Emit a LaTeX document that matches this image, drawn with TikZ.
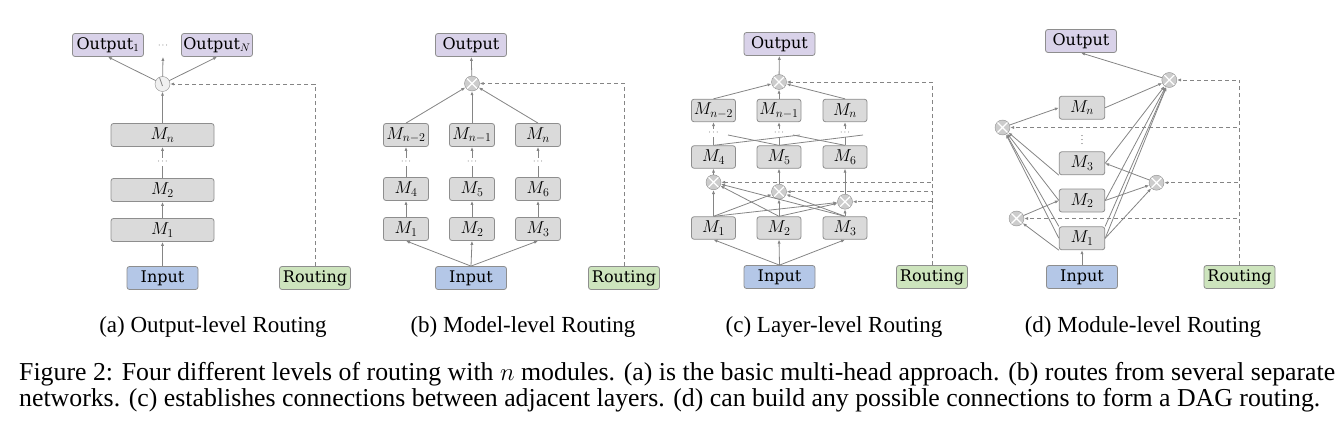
\documentclass[tikz,border=0pt]{standalone}
\usepackage{fontspec}
\setmainfont{Liberation Serif}
\newfontfamily\boxfont{DejaVu Serif}
\usetikzlibrary{arrows.meta}

\definecolor{inblue}{HTML}{B4C7E7}
\definecolor{outlilac}{HTML}{D9D2E9}
\definecolor{rtgreen}{HTML}{CDE4BD}
\definecolor{modgray}{HTML}{DADADA}
\definecolor{edgegray}{HTML}{8E8E8E}
\definecolor{linegray}{HTML}{858585}

\tikzset{
  basebox/.style={draw=edgegray, rounded corners=2.5pt, line width=0.8pt,
    minimum height=23pt, inner sep=0pt, font=\boxfont\fontsize{16}{18}\selectfont},
  modbox/.style={basebox, fill=modgray, minimum width=45pt, font=\fontsize{18}{20}\selectfont},
  inbox/.style={basebox, fill=inblue, minimum width=71pt},
  outbox/.style={basebox, fill=outlilac, minimum width=71pt},
  rtbox/.style={basebox, fill=rtgreen, minimum width=71pt},
  mixer/.style={circle, draw=edgegray, fill=black!20, minimum size=15pt, inner sep=0pt,
    path picture={\draw[white, line width=1.3pt]
      (path picture bounding box.north west) -- (path picture bounding box.south east)
      (path picture bounding box.north east) -- (path picture bounding box.south west);}},
  switchnode/.style={circle, draw=edgegray, fill=black!6, minimum size=15pt, inner sep=0pt,
    path picture={\draw[linegray, line width=0.8pt]
      ([shift={(-3pt,6.5pt)}]path picture bounding box.center) --
      ([shift={(0pt,-2pt)}]path picture bounding box.center);}},
  dotsnode/.style={inner sep=0pt, minimum height=8pt, font=\fontsize{8}{8}\selectfont},
  link/.style={draw=linegray, line width=0.8pt},
  conn/.style={link, -{Latex[length=4pt,width=3.2pt]}},
  route/.style={conn, dash pattern=on 4pt off 3pt},
  subcap/.style={anchor=base, inner sep=0pt, font=\fontsize{23}{26}\selectfont},
  capline/.style={anchor=base west, inner sep=0pt, font=\fontsize{25.8}{27}\selectfont}
}

\begin{document}
\begin{tikzpicture}[x=1pt, y=-1pt]
  \useasboundingbox (0,0) rectangle (1341,441);

  % (a) output-level
  \node[outbox] (oa1) at (108,45) {Output$_1$};
  \node[outbox] (oaN) at (217,45) {Output$_N$};
  \node[dotsnode] (oadots) at (163,46) {$\cdots$};
  \node[switchnode] (swa) at (162.5,84) {};
  \node[modbox, minimum width=103pt] (man) at (162.5,135) {$M_n$};
  \node[dotsnode] (madots) at (162.5,162) {$\cdots$};
  \node[modbox, minimum width=103pt] (ma2) at (162.5,190) {$M_2$};
  \node[modbox, minimum width=103pt] (ma1) at (162.5,230) {$M_1$};
  \node[inbox] (ina) at (162.5,278) {Input};
  \node[rtbox] (rta) at (315,278) {Routing};

  \draw[conn] (ina) -- (ma1);
  \draw[conn] (ma1) -- (ma2);
  \draw[link] (ma2) -- (madots);
  \draw[conn] (madots) -- (man);
  \draw[conn] (man) -- (swa);
  \draw[conn] (swa) -- (oa1.south);
  \draw[conn] (swa) -- (oadots |- oa1.south);
  \draw[conn] (swa) -- (oaN.south);
  \draw[route] (rta) |- (swa);

  % (b) model-level
  \node[outbox] (outb) at (471,45) {Output};
  \node[mixer] (mixb) at (472,83.5) {};
  \node[modbox] (mb7) at (406,135) {$M_{n-2}$};
  \node[modbox] (mb8) at (472,135) {$M_{n-1}$};
  \node[modbox] (mb9) at (538,135) {$M_n$};
  \node[dotsnode] (bdots1) at (406,162) {$\cdots$};
  \node[dotsnode] (bdots2) at (472,162) {$\cdots$};
  \node[dotsnode] (bdots3) at (538,162) {$\cdots$};
  \node[modbox] (mb4) at (406,189) {$M_4$};
  \node[modbox] (mb5) at (472,189) {$M_5$};
  \node[modbox] (mb6) at (538,189) {$M_6$};
  \node[modbox] (mb1) at (406,229) {$M_1$};
  \node[modbox] (mb2) at (472,229) {$M_2$};
  \node[modbox] (mb3) at (538,229) {$M_3$};
  \node[inbox] (inb) at (471,278) {Input};
  \node[rtbox] (rtb) at (624,278) {Routing};

  \draw[conn] (inb.north) -- (mb1.south);
  \draw[conn] (inb.north) -- (mb2.south);
  \draw[conn] (inb.north) -- (mb3.south);
  \draw[conn] (mb1) -- (mb4);
  \draw[conn] (mb2) -- (mb5);
  \draw[conn] (mb3) -- (mb6);
  \draw[link] (mb4) -- (bdots1);
  \draw[link] (mb5) -- (bdots2);
  \draw[link] (mb6) -- (bdots3);
  \draw[conn] (bdots1) -- (mb7);
  \draw[conn] (bdots2) -- (mb8);
  \draw[conn] (bdots3) -- (mb9);
  \draw[conn] (mb7.north) -- (mixb);
  \draw[conn] (mb8.north) -- (mixb);
  \draw[conn] (mb9.north) -- (mixb);
  \draw[conn] (mixb) -- (outb);
  \draw[route] (rtb) |- (mixb);

  % (c) layer-level
  \node[outbox] (outc) at (779.5,44) {Output};
  \node[mixer] (mixc) at (779,82) {};
  \node[modbox, minimum width=44pt, minimum height=22.5pt] (mc7) at (713.5,110.5) {$M_{n-2}$};
  \node[modbox, minimum width=44pt, minimum height=22.5pt] (mc8) at (779,110.5) {$M_{n-1}$};
  \node[modbox, minimum width=44pt, minimum height=22.5pt] (mc9) at (845,110.5) {$M_n$};
  \node[dotsnode] (cdots1) at (713.5,133) {$\cdots$};
  \node[dotsnode] (cdots2) at (779,133) {$\cdots$};
  \node[dotsnode] (cdots3) at (845,133) {$\cdots$};
  \node[modbox, minimum width=44pt, minimum height=22.5pt] (mc4) at (713.5,157) {$M_4$};
  \node[modbox, minimum width=44pt, minimum height=22.5pt] (mc5) at (779,157) {$M_5$};
  \node[modbox, minimum width=44pt, minimum height=22.5pt] (mc6) at (845,157) {$M_6$};
  \node[mixer] (cm1) at (713.5,182.3) {};
  \node[mixer] (cm2) at (779,191.7) {};
  \node[mixer] (cm3) at (845,201.7) {};
  \node[modbox, minimum width=44pt, minimum height=22.5pt] (mc1) at (713.5,228) {$M_1$};
  \node[modbox, minimum width=44pt, minimum height=22.5pt] (mc2) at (779,228) {$M_2$};
  \node[modbox, minimum width=44pt, minimum height=22.5pt] (mc3) at (845,228) {$M_3$};
  \node[inbox] (inc) at (779.5,277) {Input};
  \node[rtbox] (rtc) at (932,277) {Routing};
  \coordinate (xa) at (728,135);
  \coordinate (xb) at (800,135);
  \coordinate (xc) at (793,135);
  \coordinate (xd) at (863,135);

  \draw[conn] (inc.north) -- (mc1.south);
  \draw[conn] (inc.north) -- (mc2.south);
  \draw[conn] (inc.north) -- (mc3.south);
  \draw[conn] (mc1.north) -- (cm1);
  \draw[conn] (mc1.north) -- (cm2);
  \draw[conn] (mc1.north) -- (cm3);
  \draw[conn] (mc2.north) -- (cm1);
  \draw[conn] (mc2.north) -- (cm2);
  \draw[conn] (mc2.north) -- (cm3);
  \draw[conn] (mc3.north) -- (cm1);
  \draw[conn] (mc3.north) -- (cm2);
  \draw[conn] (mc3.north) -- (cm3);
  \draw[conn] (cm1) -- (mc4);
  \draw[conn] (cm2) -- (mc5);
  \draw[conn] (cm3) -- (mc6);
  \draw[link] (mc4) -- (cdots1);
  \draw[link] (mc5) -- (cdots2);
  \draw[link] (mc6) -- (cdots3);
  \draw[link] (mc4.north) -- (xb);
  \draw[link] (mc5.north) -- (xa);
  \draw[link] (mc5.north) -- (xd);
  \draw[link] (mc6.north) -- (xc);
  \draw[conn] (cdots1) -- (mc7);
  \draw[conn] (cdots2) -- (mc8);
  \draw[conn] (cdots3) -- (mc9);
  \draw[conn] (mc7.north) -- (mixc);
  \draw[conn] (mc8.north) -- (mixc);
  \draw[conn] (mc9.north) -- (mixc);
  \draw[conn] (mixc) -- (outc);
  \draw[route] (rtc) |- (mixc);
  \draw[route] (rtc) |- (cm1);
  \draw[route] (rtc) |- (cm2);
  \draw[route] (rtc) |- (cm3);

  % (d) module-level
  \node[outbox] (outd) at (1081,41) {Output};
  \node[mixer] (mixtd) at (1169.3,80) {};
  \node[mixer] (mixld) at (1002.5,127.5) {};
  \node[mixer] (mixrd) at (1156.5,182.7) {};
  \node[mixer] (mixbd) at (1016.5,218.5) {};
  \node[modbox, minimum width=45.5pt] (md7) at (1082,107.7) {$M_n$};
  \node[dotsnode] (ddots) at (1082,137) {$\vdots$};
  \node[modbox, minimum width=45.5pt] (md3) at (1082,163.3) {$M_3$};
  \node[modbox, minimum width=45.5pt] (md2) at (1082,200.5) {$M_2$};
  \node[modbox, minimum width=45.5pt] (md1) at (1082,238.3) {$M_1$};
  \node[inbox] (ind) at (1082,277) {Input};
  \node[rtbox] (rtd) at (1239.5,277) {Routing};

  \draw[conn] (ind) -- (md1);
  \draw[conn] (md1.south west) -- (mixbd);
  \draw[conn] (mixbd) -- (md2.west);
  \draw[conn] (md1.east) -- (mixrd);
  \draw[conn] (md2.east) -- (mixrd);
  \draw[conn] (mixrd) -- (md3.east);
  \draw[conn] (md1.west) -- (mixld);
  \draw[conn] (md1.north west) -- (mixld);
  \draw[conn] (md2.west) -- (mixld);
  \draw[conn] (md3.south west) -- (mixld);
  \draw[conn] (mixld) -- (md7.west);
  \draw[conn] (md7.east) -- (mixtd);
  \draw[conn] (md3.east) -- (mixtd);
  \draw[conn] (md2.east) -- (mixtd);
  \draw[conn] (md1.north east) -- (mixtd);
  \draw[conn] (md1.east) -- (mixtd);
  \draw[conn] (mixtd) -- (outd.south);
  \draw[route] (rtd) |- (mixtd);
  \draw[route] (rtd) |- (mixld);
  \draw[route] (rtd) |- (mixrd);
  \draw[route] (rtd) |- (mixbd);

  % captions
  \node[subcap] (capa) at (213,332) {(a) Output-level Routing};
  \node[subcap] (capb) at (523,332) {(b) Model-level Routing};
  \node[subcap] (capc) at (834,332) {(c) Layer-level Routing};
  \node[subcap] (capd) at (1143,332) {(d) Module-level Routing};
  \node[capline] (cap1) at (19,380) {\makebox[1316pt][s]{Figure 2: Four different levels of routing with $n$ modules. (a) is the basic multi-head approach. (b) routes from several separate}};
  \node[capline] (cap2) at (19,406) {networks. (c) establishes connections between adjacent layers. (d) can build any possible connections to form a DAG routing.};
\end{tikzpicture}
\end{document}
